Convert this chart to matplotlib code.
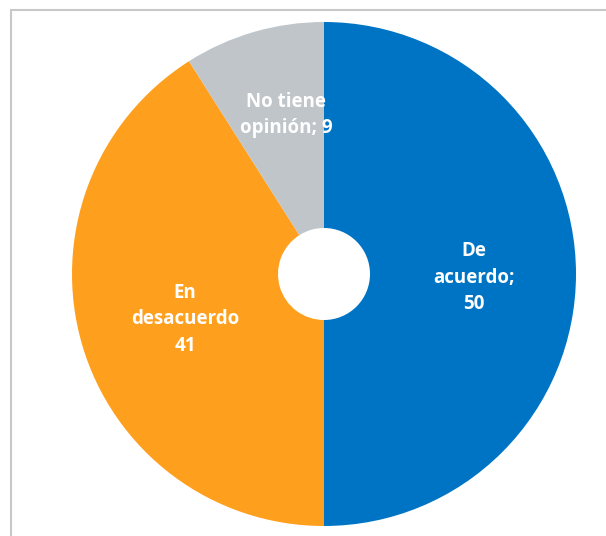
import matplotlib
matplotlib.use("Agg")
import matplotlib.pyplot as plt
from matplotlib.patches import Rectangle
import numpy as np

categories = ["De acuerdo", "En desacuerdo", "No tiene opinión"]
values = [50, 41, 9]
labels = ["De\nacuerdo;\n50", "En\ndesacuerdo\n41", "No tiene\nopinión; 9"]
colors = ["#0074C4", "#FF9F1E", "#C0C5C9"]

W, H = 606, 536
fig = plt.figure(figsize=(W / 100, H / 100), dpi=100)
cx, cy, R = 324, 274, 252
ax = fig.add_axes([(cx - R) / W, (H - cy - R) / H, 2 * R / W, 2 * R / H])
wedges, _ = ax.pie(values, colors=colors, startangle=90, counterclock=False,
                   radius=1, wedgeprops=dict(width=1 - 46 / 252, linewidth=0))
ax.set_xlim(-1, 1)
ax.set_ylim(-1, 1)
ax.set_aspect("equal")
ax.axis("off")

# label anchor positions (axes data units, pie radius = 1)
label_pos = [(0.595, -0.015), (-0.552, -0.18), (-0.151, 0.632)]
for lab, (x, y) in zip(labels, label_pos):
    ax.text(x, y, lab, ha="center", va="center",
            color="white", fontsize=13.5, fontweight="bold", family="Open Sans",
            linespacing=1.42)

fig.patches.append(Rectangle((11 / W, -0.1), 1.2, (H - 10) / H + 0.1,
                             transform=fig.transFigure, fill=False,
                             edgecolor="#C8C8C8", linewidth=1.5))
fig.savefig("out.png", dpi=100)
